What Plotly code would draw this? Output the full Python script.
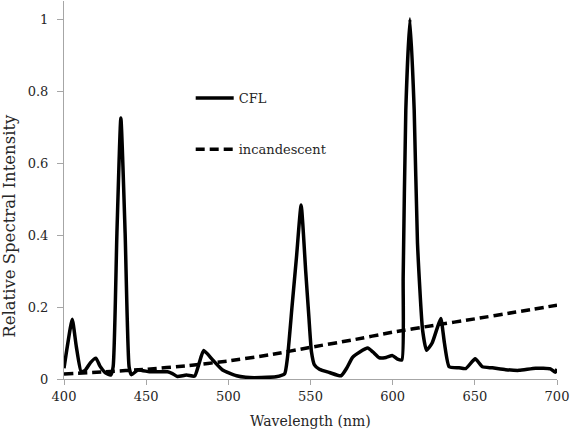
import plotly.graph_objects as go

# CFL spectrum
cfl_nm = [400, 402, 405, 407.5, 410.5, 413, 416, 419.4, 422, 425, 428.4, 429.9, 432.2, 434.6, 437.2, 439.6,
          441, 445, 452, 457, 463, 466, 469, 474.5, 479.5, 482, 485, 490.5, 496.5, 505, 513, 520, 529,
          534.2, 536, 538.8, 541.5, 544.3, 547.1, 549, 550.6, 552.4, 555.4, 561.5,
          568.6, 572, 575.6, 580, 584.8, 588, 591.9, 596, 599.9, 603, 605.6, 606.4, 608, 610.5, 613.1,
          615.1, 618.2, 620.6, 624, 627, 629.3, 631.5, 634.4, 640.4, 644.5, 650.2, 654.6, 660.7, 668.8,
          676.9, 687, 696, 699, 700]
cfl_val = [0.03, 0.09, 0.166, 0.09, 0.02, 0.025, 0.045, 0.058, 0.035, 0.018, 0.011, 0.034, 0.405, 0.725,
           0.405, 0.034, 0.012, 0.025, 0.02, 0.02, 0.02, 0.015, 0.007, 0.011, 0.008, 0.04, 0.079, 0.053,
           0.025, 0.009, 0.004, 0.004, 0.006, 0.014, 0.06, 0.203, 0.34, 0.483, 0.298, 0.173,
           0.075, 0.039, 0.027, 0.018, 0.009, 0.03, 0.06, 0.075, 0.086, 0.075, 0.059, 0.06, 0.065, 0.055,
           0.053, 0.284, 0.747, 1.0, 0.747, 0.378, 0.136, 0.08, 0.1, 0.14, 0.168, 0.1, 0.034, 0.031, 0.029,
           0.056, 0.034, 0.031, 0.026, 0.024, 0.03, 0.028, 0.019, 0.028]

# Incandescent spectrum
inc_nm = [400, 425, 450, 475, 500, 525, 550, 575, 600, 625, 650, 675, 700]
inc_val = [0.014, 0.02, 0.027, 0.037, 0.05, 0.067, 0.088, 0.108, 0.13, 0.149, 0.167, 0.186, 0.205]

x_ticks = [400, 450, 500, 550, 600, 650, 700]
y_ticks = [0, 0.2, 0.4, 0.6, 0.8, 1]

FONT = "DejaVu Serif"
GRAY = "#a6a6a6"
TXT = "#262626"

fig = go.Figure()
fig.add_trace(go.Scatter(x=cfl_nm, y=cfl_val, mode="lines", name="CFL", showlegend=True,
                         line=dict(color="black", width=3.5, shape="spline", smoothing=0.5),
                         legend="legend"))
fig.add_trace(go.Scatter(x=inc_nm, y=inc_val, mode="lines", name="incandescent", showlegend=True,
                         line=dict(color="black", width=3.5, dash="9px,5px", shape="spline", smoothing=0.6),
                         legend="legend2"))

legend_common = dict(font=dict(family=FONT, size=13, color=TXT), bgcolor="rgba(0,0,0,0)",
                     xanchor="left", yanchor="middle", borderwidth=0, itemwidth=38)
fig.update_layout(
    width=571, height=429,
    margin=dict(l=64, r=14, t=1, b=50),
    paper_bgcolor="white", plot_bgcolor="white",
    showlegend=True,
    font=dict(family=FONT, size=13, color=TXT),
    legend=dict(x=0.257, y=0.743, **legend_common),
    legend2=dict(x=0.257, y=0.608, **legend_common),
    xaxis=dict(range=[400, 700], tickvals=x_ticks, ticks="outside", ticklen=5, tickcolor=GRAY,
               showline=True, linecolor=GRAY, linewidth=1, showgrid=False, zeroline=False,
               tickfont=dict(family=FONT, size=13, color=TXT)),
    yaxis=dict(range=[0, 1.05], tickvals=y_ticks, ticks="outside", ticklen=6, tickcolor=GRAY,
               ticklabelstandoff=6,
               showline=True, linecolor=GRAY, linewidth=1, showgrid=False, zeroline=False,
               tickfont=dict(family=FONT, size=13, color=TXT)),
    annotations=[
        dict(text="Wavelength (nm)", xref="paper", yref="paper", x=0.5, y=-0.112, yanchor="middle",
             showarrow=False, font=dict(family=FONT, size=14, color=TXT)),
        dict(text="Relative Spectral Intensity", xref="paper", yref="paper", x=-0.112,
             y=(379 - 226) / 378, xanchor="center", yanchor="middle", textangle=-90,
             showarrow=False, font=dict(family=FONT, size=16.5, color=TXT)),
    ],
)

fig.write_html("out.html")
